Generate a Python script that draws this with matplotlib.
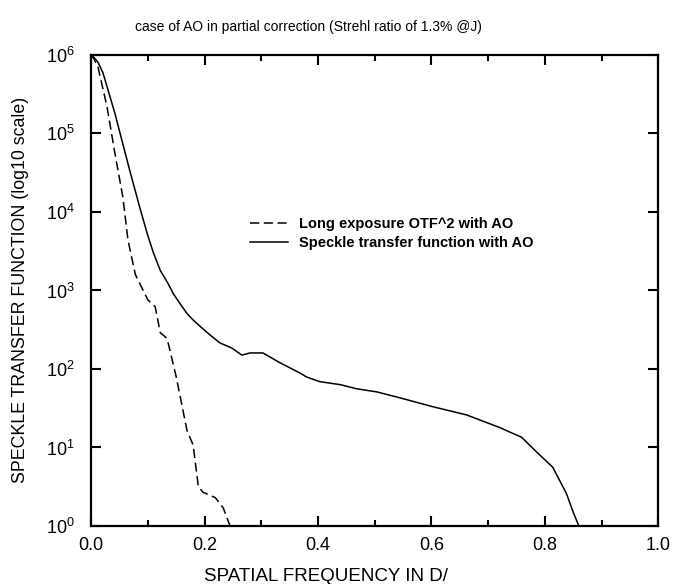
import matplotlib
matplotlib.use('Agg')
import matplotlib.pyplot as plt
import numpy as np

plt.rcParams['font.family'] = ['Liberation Sans', 'DejaVu Sans']
plt.rcParams['mathtext.fontset'] = 'custom'
plt.rcParams['mathtext.rm'] = 'Liberation Sans'
plt.rcParams['mathtext.it'] = 'Liberation Sans:italic'
plt.rcParams['mathtext.bf'] = 'Liberation Sans:bold'

# speckle transfer function with AO (solid)
freq_stf = [0.0, 0.005, 0.012, 0.021, 0.042, 0.069, 0.085, 0.100, 0.11, 0.122,
            0.135, 0.145, 0.155, 0.169, 0.18, 0.192, 0.21, 0.227, 0.248, 0.266,
            0.28, 0.303, 0.333, 0.368, 0.38, 0.403, 0.44, 0.468, 0.504, 0.544,
            0.603, 0.662, 0.72, 0.759, 0.786, 0.814, 0.838, 0.85, 0.86]
val_stf = [1.0e6, 9.3e5, 8.1e5, 5.9e5, 1.8e5, 3.2e4, 1.2e4, 5.0e3, 3.0e3, 1.8e3,
           1.25e3, 910, 710, 510, 420, 350, 270, 215, 185, 150,
           160, 160, 120, 89, 79, 69, 63, 56, 51, 43,
           33, 26, 18, 13.5, 8.7, 5.6, 2.6, 1.5, 1.0]

# long exposure OTF^2 with AO (dashed)
freq_otf = [0.0, 0.005, 0.012, 0.028, 0.042, 0.056, 0.065, 0.078, 0.1, 0.113,
            0.122, 0.134, 0.150, 0.169, 0.18, 0.189, 0.197, 0.219, 0.233, 0.245]
val_otf = [1.0e6, 8.9e5, 7.1e5, 2.2e5, 5.6e4, 1.55e4, 4.4e3, 1.6e3, 760, 620,
           290, 245, 80, 16.6, 10.7, 3.2, 2.7, 2.3, 1.7, 1.0]

fig = plt.figure(figsize=(6.9, 5.84), dpi=100)
ax = fig.add_axes([0.132, 0.0993, 0.822, 0.8067])

ax.plot(freq_otf, val_otf, color='black', lw=1.1, dashes=(6, 3),
        label='Long exposure OTF^2 with AO')
ax.plot(freq_stf, val_stf, color='black', lw=1.1,
        label='Speckle transfer function with AO')

ax.set_yscale('log')
ax.set_xlim(0, 1.0)
ax.set_ylim(1, 1e6)
ax.set_xticks(np.arange(0, 1.01, 0.2))
ax.set_xticks(np.arange(0.1, 1.0, 0.2), minor=True)
ax.set_xticklabels(['0.0', '0.2', '0.4', '0.6', '0.8', '1.0'])
ax.set_yticks([1, 10, 100, 1e3, 1e4, 1e5, 1e6])
ax.yaxis.set_minor_locator(matplotlib.ticker.NullLocator())

for s in ax.spines.values():
    s.set_linewidth(1.6)
ax.tick_params(which='both', direction='in', top=True, right=True, width=1.5)
ax.tick_params(which='major', length=7, labelsize=13)
ax.tick_params(which='minor', length=4)
ax.tick_params(axis='x', pad=8)
ax.tick_params(axis='y', pad=12)

ax.legend(loc='center left', bbox_to_anchor=(0.28, 0.62), frameon=False,
          prop={'weight': 'bold', 'size': 10.5}, handlelength=2.6,
          handletextpad=0.8, borderpad=0, borderaxespad=0, labelspacing=0.35)

fig.text(0.447, 0.954, 'case of AO in partial correction (Strehl ratio of 1.3% @J)',
         ha='center', va='center', fontsize=10)
fig.text(0.472, 0.012, 'SPATIAL FREQUENCY IN D/', ha='center', va='center', fontsize=13.5)
fig.text(0.03, 0.503, 'SPECKLE TRANSFER FUNCTION (log10 scale)', ha='center',
         va='center', rotation=90, fontsize=12.8)

fig.savefig('out.png', dpi=100)
